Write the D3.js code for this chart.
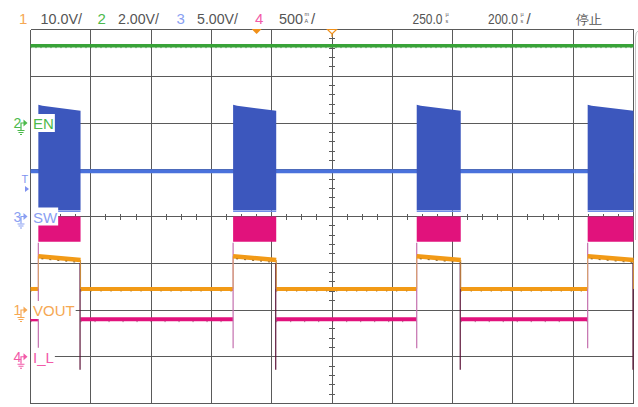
<!DOCTYPE html>
<html><head><meta charset="utf-8">
<script src="https://cdn.jsdelivr.net/npm/d3@7"></script>
<style>
html,body{margin:0;padding:0;background:#fff;}
svg{display:block;}
text{font-family:"Liberation Sans","DejaVu Sans",sans-serif;}
</style></head>
<body>
<svg id="c" width="638" height="407"></svg>
<script>
// ---------------- data ----------------
const channelIds   = ["1", "2", "3", "4"];
const channelScale = ["10.0V/", "2.00V/", "5.00V/", "500"];
const channelNames = ["VOUT", "EN", "SW", "I_L"];
const channelPerDiv = [10, 2, 5, 0.5];      // units per division
const channelOffsetDiv = [-2, 2, 0, -3];    // ground marker position (div)
const timeDelay = "250.0";                  // µs
const timeBase = "200.0";                   // µs/div
const timeDomain = [-750, 1250];            // µs across the 10 divisions
const runState = "停止";

// switching bursts (µs)
const burstStart = [-724, -78, 531, 1098];
const burstEnd   = [-584, 65, 677, 1250];

// EN (V)
const enLevel = 3.3;
// SW (V)
const swIdle = 4.83, swTopStart = 11.96, swTopEnd = 11.3, swLow = 0.67;
// VOUT (V)
const voutIdle = 4.5, voutBurstStart = 11.5, voutBurstEnd = 10.7;
// I_L (A)
const ilIdle = 0.4, ilBurstTop = 1.5, ilBurstBottom = 1.23;
const ilSpikeStartTop = 1.22, ilSpikeStartMin = 0.09;
const ilSpikeEndTop = 1.0, ilSpikeEndMin = -0.14;

// ---------------- layout ----------------
const svg = d3.select("#c");
const X0 = 30.5, X1 = 633.5, Y0 = 29.5, Y1 = 403.5;
const x = d3.scaleLinear().domain(timeDomain).range([X0, X1]);
const xDiv = d3.scaleLinear().domain([0, 10]).range([X0, X1]);
const yDiv = d3.scaleLinear().domain([-4, 4]).range([Y1, Y0]);
const chY = i => v => yDiv(channelOffsetDiv[i] + v / channelPerDiv[i]);
const yVout = chY(0), yEn = chY(1), ySw = chY(2), yIl = chY(3);

const colTrace = {vout:"#f29a16", en:"#38a338", sw:"#4a72dc", swBurst:"#3c57bd", il:"#e1127c"};
const colLabel = ["#f6a853", "#4cba4c", "#8a9ff2", "#f25aa8"];

// ---------------- grid ----------------
const grid = svg.append("g").attr("shape-rendering","crispEdges");
d3.range(0, 11).forEach(i => {
  grid.append("line").attr("x1", xDiv(i)).attr("x2", xDiv(i)).attr("y1", Y0).attr("y2", Y1)
    .attr("stroke", "#5a5a5a").attr("stroke-width", 1);
});
d3.range(0, 9).forEach(i => {
  grid.append("line").attr("x1", X0).attr("x2", X1).attr("y1", yDiv(i - 4)).attr("y2", yDiv(i - 4))
    .attr("stroke", "#5a5a5a").attr("stroke-width", 1);
});
// minor ticks on centre axes
d3.range(0, 40).forEach(k => {
  if (k % 4 === 0) return;
  const xx = xDiv(k / 4);
  grid.append("line").attr("x1", xx).attr("x2", xx).attr("y1", yDiv(0) - 3).attr("y2", yDiv(0) + 3)
    .attr("stroke", "#5a5a5a");
});
d3.range(0, 40).forEach(k => {
  if (k % 5 === 0) return;
  const yy = yDiv(k / 5 - 4);
  grid.append("line").attr("x1", xDiv(5) - 3).attr("x2", xDiv(5) + 3).attr("y1", yy).attr("y2", yy)
    .attr("stroke", "#5a5a5a");
});
// right-side bracket
svg.append("path").attr("d", "M638,31 Q635.5,32 635.5,37 L635.5,240")
  .attr("fill", "none").attr("stroke", "#c4c4c4").attr("stroke-width", 1);

// ---------------- traces ----------------
const tr = svg.append("g");
// idle intervals (complement of bursts)
const idle = [];
let prev = timeDomain[0];
burstStart.forEach((s, i) => { if (s > prev) idle.push([prev, s]); prev = burstEnd[i]; });
if (prev < timeDomain[1]) idle.push([prev, timeDomain[1]]);

// EN
tr.append("line").attr("x1", x(timeDomain[0])).attr("x2", x(timeDomain[1]))
  .attr("y1", yEn(enLevel)).attr("y2", yEn(enLevel))
  .attr("stroke", colTrace.en).attr("stroke-width", 3.5);
tr.append("line").attr("x1", x(timeDomain[0])).attr("x2", x(timeDomain[1]))
  .attr("y1", yEn(enLevel) + 1.8).attr("y2", yEn(enLevel) + 1.8)
  .attr("stroke", "#2b6e2b").attr("stroke-width", 0.8).attr("stroke-dasharray", "1 4");

// SW baseline
tr.append("line").attr("x1", x(timeDomain[0])).attr("x2", x(timeDomain[1]))
  .attr("y1", ySw(swIdle)).attr("y2", ySw(swIdle))
  .attr("stroke", colTrace.sw).attr("stroke-width", 4);

// VOUT idle & I_L idle
idle.forEach(([a, b]) => {
  tr.append("line").attr("x1", x(a)).attr("x2", x(b)).attr("y1", yVout(voutIdle)).attr("y2", yVout(voutIdle))
    .attr("stroke", colTrace.vout).attr("stroke-width", 4);
  tr.append("line").attr("x1", x(a)).attr("x2", x(b)).attr("y1", yVout(voutIdle) + 2.3).attr("y2", yVout(voutIdle) + 2.3)
    .attr("stroke", "#8a5a10").attr("stroke-width", 0.7).attr("stroke-dasharray", "1 9");
  tr.append("line").attr("x1", x(a)).attr("x2", x(b)).attr("y1", yIl(ilIdle)).attr("y2", yIl(ilIdle))
    .attr("stroke", colTrace.il).attr("stroke-width", 4);
  tr.append("line").attr("x1", x(a)).attr("x2", x(b)).attr("y1", yIl(ilIdle) + 2.3).attr("y2", yIl(ilIdle) + 2.3)
    .attr("stroke", "#7a1848").attr("stroke-width", 0.7).attr("stroke-dasharray", "1 13");
});

burstStart.forEach((s, i) => {
  const e = burstEnd[i];
  const xs = x(s), xe = Math.min(x(e), X1);
  // SW burst
  tr.append("path")
    .attr("d", `M${xs},${ySw(swTopStart)} L${xs + 4},${ySw(swTopStart) + 1} L${xe},${ySw(swTopEnd)} L${xe},${ySw(swLow)} L${xs},${ySw(swLow)} Z`)
    .attr("fill", colTrace.swBurst);
  tr.append("line").attr("x1", xs).attr("x2", xe).attr("y1", ySw(swLow) + 1).attr("y2", ySw(swLow) + 1)
    .attr("stroke", "#6f8ee8").attr("stroke-width", 1.5);
  // I_L burst band
  tr.append("rect").attr("x", xs).attr("y", yIl(ilBurstTop)).attr("width", xe - xs)
    .attr("height", yIl(ilBurstBottom) - yIl(ilBurstTop)).attr("fill", colTrace.il);
  // I_L spikes
  tr.append("line").attr("x1", xs).attr("x2", xs).attr("y1", yIl(ilSpikeStartTop)).attr("y2", yIl(ilSpikeStartMin))
    .attr("stroke", "#c46fae").attr("stroke-width", 1.2);
  tr.append("line").attr("x1", xe - 0.5).attr("x2", xe - 0.5).attr("y1", yIl(ilSpikeEndTop)).attr("y2", yIl(ilSpikeEndMin))
    .attr("stroke", "#5c1438").attr("stroke-width", 1.2);
  // VOUT during burst
  const vEnd = voutBurstStart + (voutBurstEnd - voutBurstStart) * Math.min(1, (x.invert(xe) - s) / (e - s));
  tr.append("line").attr("x1", xs).attr("x2", xs).attr("y1", yVout(voutIdle)).attr("y2", yVout(voutBurstStart))
    .attr("stroke", "#d8a565").attr("stroke-width", 1);
  tr.append("line").attr("x1", xe).attr("x2", xe).attr("y1", yVout(vEnd)).attr("y2", yVout(voutIdle))
    .attr("stroke", "#c98a3a").attr("stroke-width", 1);
  tr.append("line").attr("x1", xs).attr("x2", xe).attr("y1", yVout(voutBurstStart)).attr("y2", yVout(vEnd))
    .attr("stroke", colTrace.vout).attr("stroke-width", 4.5);
  tr.append("line").attr("x1", xs + 3).attr("x2", xe).attr("y1", yVout(voutBurstStart) + 2.6).attr("y2", yVout(vEnd) + 2.6)
    .attr("stroke", "#7a4e10").attr("stroke-width", 0.8).attr("stroke-dasharray", "2 6");
});

// ---------------- header ----------------
const hdr = svg.append("g").attr("font-size", 15);
const hdrY = 23.5;
const idX = [19, 97.5, 176.5, 255];
const scX = [[40.5, 41.5], [118, 41], [197, 41], [279, 24]];
channelIds.forEach((id, i) => {
  hdr.append("text").attr("x", idX[i]).attr("y", hdrY).attr("fill", colLabel[i]).text(id);
  hdr.append("text").attr("x", scX[i][0]).attr("y", hdrY).attr("fill", "#555")
    .attr("textLength", scX[i][1]).attr("lengthAdjust", "spacingAndGlyphs").text(channelScale[i]);
});
function stacked(xp, top, bot) {
  const t = hdr.append("text").attr("x", xp).attr("y", 16).attr("font-size", 5.5).attr("fill", "#555");
  t.append("tspan").attr("x", xp).attr("y", 16).text(top);
  t.append("tspan").attr("x", xp).attr("y", 22.5).text(bot);
}
function narrow(xp, str, sx) {
  hdr.append("text").attr("transform", `translate(${xp},${hdrY}) scale(${sx},1)`)
    .attr("fill", "#555").text(str);
}
stacked(304.5, "m", "A");
hdr.append("text").attr("x", 311).attr("y", hdrY).attr("fill", "#555").text("/");
narrow(412.5, timeDelay, 0.8);
stacked(445.5, "µ", "s");
narrow(488, timeBase, 0.8);
stacked(520.5, "µ", "s");
hdr.append("text").attr("x", 526.5).attr("y", hdrY).attr("fill", "#555").text("/");
hdr.append("text").attr("x", 576).attr("y", hdrY).attr("fill", "#555").attr("font-size", 13)
  .attr("font-family", "Noto Sans CJK SC").text(runState);

// trigger markers
const tZero = x(0);
svg.append("path").attr("d", `M${tZero - 5},29 L${tZero + 5},29 L${tZero},34 Z`).attr("fill", "#f0901a");
const tPos = xDiv(5);
svg.append("path").attr("d", `M${tPos - 4.5},29.5 L${tPos + 4.5},29.5 L${tPos},34 Z M${tPos},34 L${tPos},37`)
  .attr("fill", "#fff").attr("stroke", "#f0901a").attr("stroke-width", 1.2);

// ---------------- channel markers ----------------
const mk = svg.append("g");
const order = [1, 2, 0, 3];
order.forEach(i => {
  const yg = yDiv(channelOffsetDiv[i]);
  const c = colLabel[i];
  mk.append("text").attr("x", 13.5).attr("y", yg + 5).attr("font-size", 14).attr("fill", c).text(channelIds[i]);
  mk.append("path").attr("d", `M21,${yg + 7} L21,${yg} L24,${yg}`).attr("fill", "none").attr("stroke", c).attr("stroke-width", 1.2);
  mk.append("path").attr("d", `M23.5,${yg - 3.5} L23.5,${yg + 3.5} L27.5,${yg} Z`).attr("fill", c);
  mk.append("path").attr("d", `M17.5,${yg + 7.5} L24.5,${yg + 7.5} M18.5,${yg + 9.5} L23.5,${yg + 9.5} M20,${yg + 11.5} L22,${yg + 11.5}`)
    .attr("stroke", c).attr("stroke-width", 1.1);
  const t = mk.append("text").attr("x", 33).attr("y", yg + 6).attr("font-size", 15).attr("fill", c).text(channelNames[i]);
  const w = t.node().getComputedTextLength();
  mk.insert("rect", () => t.node()).attr("x", 31).attr("y", yg - 9).attr("width", w + 3).attr("height", 18).attr("fill", "#fff");
});
// trigger level marker
mk.append("text").attr("x", 21.5).attr("y", 183).attr("font-size", 11).attr("fill", "#7f92ef").text("T");
mk.append("path").attr("d", "M25,186 L25,192 L29,189 Z").attr("fill", "#7f92ef");
</script>
</body></html>
